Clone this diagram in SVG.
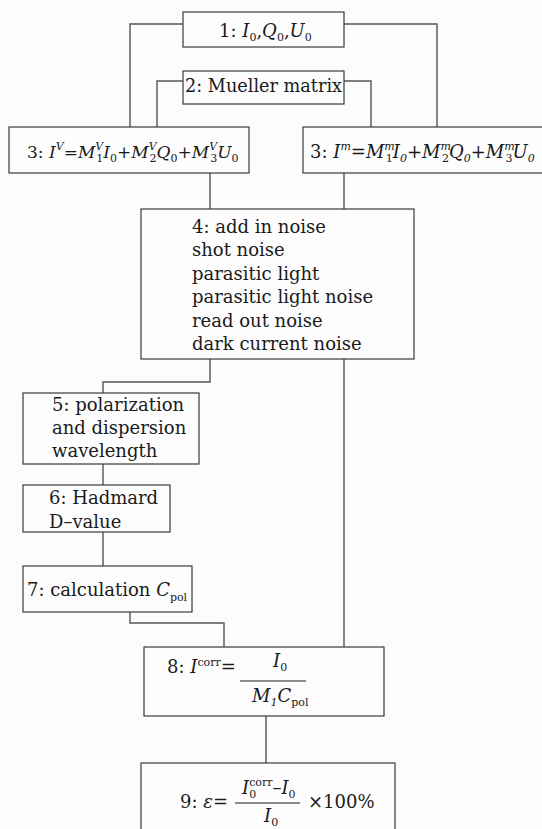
<svg xmlns="http://www.w3.org/2000/svg" width="542" height="829" viewBox="0 0 542 829">
<style>
.bg{fill:#fcfcfc}
.box{fill:#fdfdfd;stroke:#3a3a3a;stroke-width:1.2}
.con{fill:none;stroke:#555;stroke-width:1.4}
.t{font-family:"DejaVu Serif","Liberation Serif",serif;font-size:18px;fill:#1a1a1a}
.i{font-style:italic}
.s{font-size:11px}
.fl{stroke:#1a1a1a;stroke-width:1.2}
</style>
<rect class="bg" x="0" y="0" width="542" height="829"/>
<g id="connectors">
<path class="con" d="M183,24 H130 V127"/>
<path class="con" d="M344,24 H437 V127"/>
<path class="con" d="M183,81 H157 V127"/>
<path class="con" d="M344,81 H371 V127"/>
<path class="con" d="M210,173 V209"/>
<path class="con" d="M344,173 V209"/>
<path class="con" d="M210,359 V382 H103 V393"/>
<path class="con" d="M344,359 V647"/>
<path class="con" d="M103,464 V485"/>
<path class="con" d="M103,532 V566"/>
<path class="con" d="M130,612 V623 H224 V647"/>
<path class="con" d="M266,716 V763"/>
</g>
<g id="node1">
<rect class="box" x="183" y="12" width="161" height="35"/>
<text class="t" x="219" y="37">1: <tspan class="i">I</tspan><tspan class="s" dy="4">0</tspan><tspan dy="-4">,</tspan><tspan class="i">Q</tspan><tspan class="s" dy="4">0</tspan><tspan dy="-4">,</tspan><tspan class="i">U</tspan><tspan class="s" dy="4">0</tspan></text>
</g>
<g id="node2">
<rect class="box" x="183" y="71" width="161" height="33"/>
<text class="t" x="185" y="92" textLength="157" lengthAdjust="spacingAndGlyphs">2: Mueller matrix</text>
</g>
<g id="node3v">
<rect class="box" x="9" y="127" width="240" height="46"/>
<text class="t" x="27" y="158" style="font-size:17px">3: <tspan class="i">I</tspan><tspan class="s i" dy="-8">V</tspan><tspan dy="8">=</tspan><tspan class="i">M</tspan><tspan class="s i" dy="-8">V</tspan><tspan class="s" dx="-7" dy="12">1</tspan><tspan class="i" dy="-4">I</tspan><tspan class="s" dy="4">0</tspan><tspan dy="-4">+</tspan><tspan class="i">M</tspan><tspan class="s i" dy="-8">V</tspan><tspan class="s" dx="-7" dy="12">2</tspan><tspan class="i" dy="-4">Q</tspan><tspan class="s" dy="4">0</tspan><tspan dy="-4">+</tspan><tspan class="i">M</tspan><tspan class="s i" dy="-8">V</tspan><tspan class="s" dx="-7" dy="12">3</tspan><tspan class="i" dy="-4">U</tspan><tspan class="s" dy="4">0</tspan></text>
</g>
<g id="node3m">
<rect class="box" x="303" y="127" width="245" height="46"/>
<text class="t" x="310" y="158">3: <tspan class="i">I</tspan><tspan class="s i" dy="-8">m</tspan><tspan dy="8">=</tspan><tspan class="i">M</tspan><tspan class="s i" dy="-8">m</tspan><tspan class="s" dx="-9" dy="12">1</tspan><tspan class="i" dy="-4">I</tspan><tspan class="s i" dy="4">0</tspan><tspan dy="-4">+</tspan><tspan class="i">M</tspan><tspan class="s i" dy="-8">m</tspan><tspan class="s" dx="-9" dy="12">2</tspan><tspan class="i" dy="-4">Q</tspan><tspan class="s i" dy="4">0</tspan><tspan dy="-4">+</tspan><tspan class="i">M</tspan><tspan class="s i" dy="-8">m</tspan><tspan class="s" dx="-9" dy="12">3</tspan><tspan class="i" dy="-4">U</tspan><tspan class="s i" dy="4">0</tspan></text>
</g>
<g id="node4">
<rect class="box" x="141" y="209" width="273" height="150"/>
<text class="t" x="192" y="233">4: add in noise</text>
<text class="t" x="192" y="256">shot noise</text>
<text class="t" x="192" y="280">parasitic light</text>
<text class="t" x="192" y="303">parasitic light noise</text>
<text class="t" x="192" y="327">read out noise</text>
<text class="t" x="192" y="350">dark current noise</text>
</g>
<g id="node5">
<rect class="box" x="23" y="393" width="176" height="71"/>
<text class="t" x="52" y="411">5: polarization</text>
<text class="t" x="52" y="434">and dispersion</text>
<text class="t" x="52" y="457">wavelength</text>
</g>
<g id="node6">
<rect class="box" x="23" y="485" width="147" height="47"/>
<text class="t" x="49" y="504">6: Hadmard</text>
<text class="t" x="49" y="528">D–value</text>
</g>
<g id="node7">
<rect class="box" x="23" y="566" width="169" height="46"/>
<text class="t" x="27" y="596">7: calculation <tspan class="i">C</tspan><tspan class="s" dy="5">pol</tspan></text>
</g>
<g id="node8">
<rect class="box" x="144" y="647" width="240" height="69"/>
<text class="t" x="167" y="673">8: <tspan class="i">I</tspan><tspan class="s" dy="-7">corr</tspan><tspan dy="7">=</tspan></text>
<text class="t" x="273" y="667"><tspan class="i">I</tspan><tspan class="s" dy="4">0</tspan></text>
<line class="fl" x1="240" y1="681" x2="306" y2="681"/>
<text class="t" x="252" y="702"><tspan class="i">M</tspan><tspan class="s i" dy="4">1</tspan><tspan class="i" dy="-4">C</tspan><tspan class="s" dy="4">pol</tspan></text>
</g>
<g id="node9">
<rect class="box" x="141" y="763" width="254" height="75"/>
<text class="t" x="180" y="808">9: <tspan class="i">ε</tspan>=</text>
<text class="t" x="242" y="794"><tspan class="i">I</tspan><tspan class="s" dy="4">0</tspan><tspan class="s" dx="-7" dy="-12">corr</tspan><tspan dy="8">–</tspan><tspan class="i">I</tspan><tspan class="s" dy="4">0</tspan></text>
<line class="fl" x1="235" y1="803" x2="300" y2="803"/>
<text class="t" x="264" y="822"><tspan class="i">I</tspan><tspan class="s" dy="4">0</tspan></text>
<text class="t" x="308" y="808">×100%</text>
</g>
</svg>
